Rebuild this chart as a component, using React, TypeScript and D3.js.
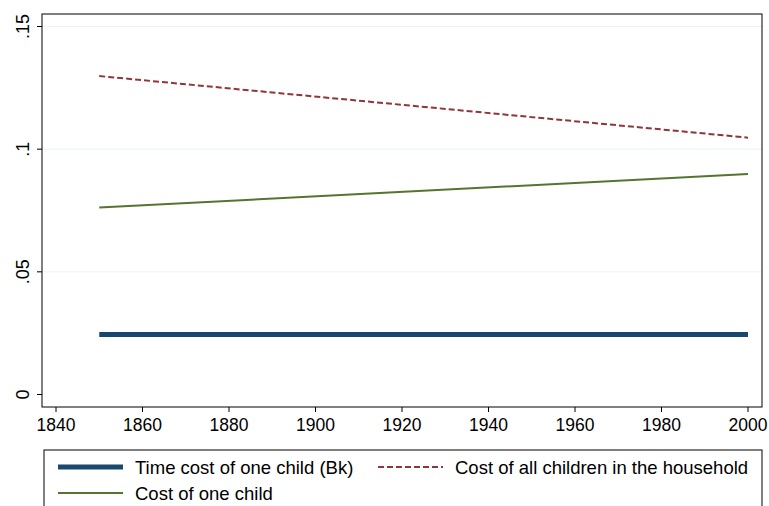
import React from 'react'
import * as d3 from 'd3'

const years = [1850, 2000]
const timeCost = [0.0245, 0.0245]
const allChildren = [0.1298, 0.1047]
const oneChild = [0.0762, 0.0899]
const xTicks = [1840, 1860, 1880, 1900, 1920, 1940, 1960, 1980, 2000]
const yTicks = [0, 0.05, 0.1, 0.15]
const yLabels = ['0', '.05', '.1', '.15']

const W = 769
const H = 506
const box = {left: 42, right: 762, top: 14, bottom: 407}

export default function App() {
  const x = d3.scaleLinear().domain([1840, 2000]).range([56, 748])
  const y = d3.scaleLinear().domain([0, 0.15]).range([394.5, 26.5])
  const line = (vals: number[]) =>
    d3.line<number>().x((_, i) => x(years[i])).y(v => y(v))(vals) || ''
  const font = '"Liberation Sans", Arial, sans-serif'

  return (
    <svg width={W} height={H} style={{position: 'absolute', left: 0, top: 0}} fontFamily={font}>
      <rect width={W} height={H} fill="#fff" />
      {yTicks.map((t, i) => (
        <g key={t}>
          {i > 0 && <line x1={box.left} x2={box.right} y1={y(t)} y2={y(t)} stroke="#eaf2f3" strokeWidth={1} />}
          <line x1={box.left - 5} x2={box.left} y1={y(t)} y2={y(t)} stroke="#000" />
          <text transform={`translate(${box.left - 13},${y(t)}) rotate(-90)`} textAnchor="middle" fontSize={18}>
            {yLabels[i]}
          </text>
        </g>
      ))}
      {xTicks.map(t => (
        <g key={t}>
          <line x1={x(t)} x2={x(t)} y1={box.bottom} y2={box.bottom + 5} stroke="#000" />
          <text x={x(t)} y={box.bottom + 24} textAnchor="middle" fontSize={17.5}>
            {t}
          </text>
        </g>
      ))}
      <rect x={box.left} y={box.top} width={box.right - box.left} height={box.bottom - box.top} fill="none" stroke="#000" />
      <path d={line(timeCost)} stroke="#1a476f" strokeWidth={5} fill="none" />
      <path d={line(allChildren)} stroke="#90353b" strokeWidth={2} strokeDasharray="6,3" fill="none" />
      <path d={line(oneChild)} stroke="#55752f" strokeWidth={2} fill="none" />
      <rect x={44} y={450} width={718} height={70} fill="none" stroke="#000" />
      <line x1={58} x2={123} y1={467} y2={467} stroke="#1a476f" strokeWidth={5} />
      <text x={135} y={473.5} fontSize={18.5}>Time cost of one child (Bk)</text>
      <line x1={378} x2={443} y1={467} y2={467} stroke="#90353b" strokeWidth={2} strokeDasharray="6,3" />
      <text x={455} y={473.5} fontSize={18.5}>Cost of all children in the household</text>
      <line x1={58} x2={123} y1={493} y2={493} stroke="#55752f" strokeWidth={2} />
      <text x={135} y={499.5} fontSize={18.5}>Cost of one child</text>
    </svg>
  )
}
